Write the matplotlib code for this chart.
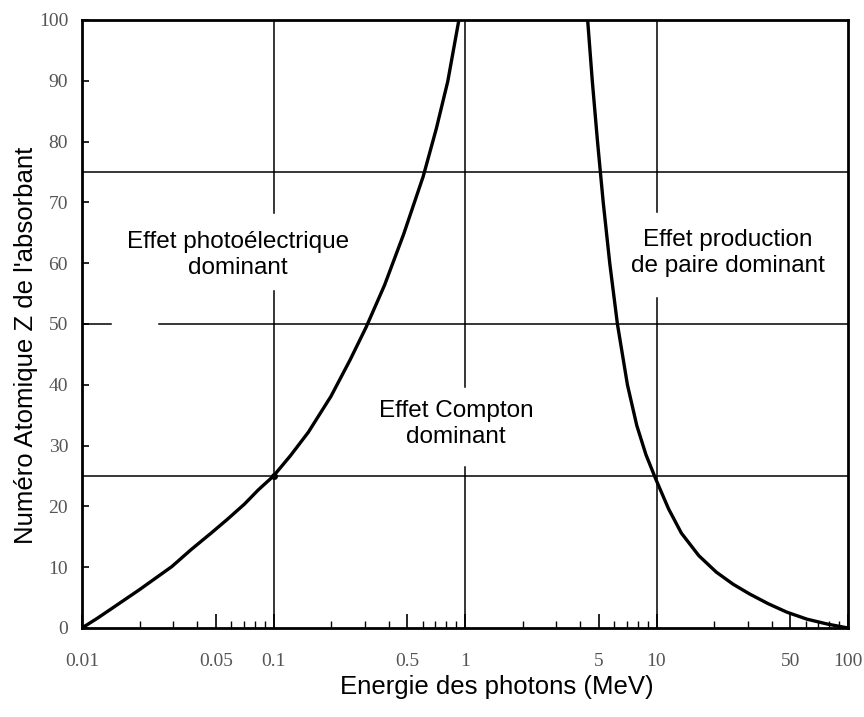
import matplotlib.pyplot as plt
from matplotlib.ticker import FixedLocator, NullFormatter

# Frontière photoélectrique / Compton
e_photo = [0.01, 0.01202, 0.01445, 0.01995, 0.02944, 0.03715, 0.04721, 0.05754,
           0.07063, 0.08318, 0.1, 0.123, 0.152, 0.1995, 0.2512, 0.3048, 0.3802,
           0.4786, 0.6053, 0.7079, 0.8128, 0.929]
z_photo = [0, 1.6, 3.3, 6.3, 10.1, 12.9, 15.6, 17.9,
           20.4, 22.7, 25.0, 28.4, 32.2, 38.1, 44.1, 49.5, 56.4,
           64.8, 74.3, 82.1, 89.9, 100]

# Frontière Compton / production de paire
e_paire = [4.37, 4.62, 4.92, 5.27, 5.70, 6.25, 7.05, 7.89, 8.81, 9.91, 11.56,
           13.49, 16.63, 20.51, 25.12, 30.62, 38.28, 47.97, 61.09, 77.98, 89.13,
           100]
z_paire = [100, 90, 80, 70, 60, 50, 40, 33.3, 28.5, 24.5, 19.6,
           15.6, 11.9, 9.2, 7.2, 5.6, 4.0, 2.6, 1.45, 0.65, 0.3,
           0]

# Lignes de repère (avec interruptions autour des textes)
z_repere = [75, 50, 25]
e_repere = [0.1, 1, 10]
trous_vert = {0.1: (55.4, 68.3), 1: (26.4, 39.6), 10: (54.2, 68.5)}
trou_50 = (0.0142, 0.0252)

x_ticks = [0.01, 0.05, 0.1, 0.5, 1, 5, 10, 50, 100]
x_labels = ['0.01', '0.05', '0.1', '0.5', '1', '5', '10', '50', '100']
x_minor = [m * d for d in [0.01, 0.1, 1, 10] for m in [2, 3, 4, 6, 7, 8, 9]]
y_ticks = list(range(0, 101, 10))

fig = plt.figure(figsize=(8.64, 7.17), dpi=100)
ax = fig.add_axes([82 / 864, 1 - 628 / 717, 766 / 864, 608 / 717])
ax.set_xscale('log')
ax.set_xlim(0.01, 100)
ax.set_ylim(0, 100)

# lignes horizontales
for z in z_repere:
    if z == 50:
        ax.plot([0.01, trou_50[0]], [z, z], color='black', lw=1.1)
        ax.plot([trou_50[1], 100], [z, z], color='black', lw=1.1)
    else:
        ax.plot([0.01, 100], [z, z], color='black', lw=1.1)

# lignes verticales
for e in e_repere:
    bas, haut = trous_vert[e]
    ax.plot([e, e], [0, bas], color='black', lw=1.1)
    ax.plot([e, e], [haut, 100], color='black', lw=1.1)

ax.plot(e_photo, z_photo, color='black', lw=2.4, solid_capstyle='round',
        solid_joinstyle='round')
ax.plot(e_paire, z_paire, color='black', lw=2.4, solid_capstyle='round',
        solid_joinstyle='round')
ax.plot([0.1], [25], 'o', color='black', ms=4)
ax.plot([0.01], [0], 's', color='black', ms=4)

txt = dict(family='Liberation Sans', fontsize=17.5, ha='center', va='center',
           linespacing=1.25)
ax.text(0.065, 61.4, 'Effet photoélectrique\ndominant', **txt)
ax.text(0.9, 33.5, 'Effet Compton\ndominant', **txt)
ax.text(23.6, 61.7, 'Effet production\nde paire dominant', **txt)

ax.xaxis.set_major_locator(FixedLocator(x_ticks))
ax.set_xticklabels(x_labels)
ax.xaxis.set_minor_locator(FixedLocator(x_minor))
ax.xaxis.set_minor_formatter(NullFormatter())
ax.set_yticks(y_ticks)
ax.tick_params(axis='x', which='major', direction='in', length=10, width=1.2,
               pad=18, labelsize=14, labelcolor='#555555')
ax.tick_params(axis='x', which='minor', direction='in', length=5, width=1)
ax.tick_params(axis='y', direction='in', length=5, width=1.2, pad=10,
               labelsize=14, labelcolor='#555555')
for lab in ax.get_xticklabels() + ax.get_yticklabels():
    lab.set_family('Liberation Serif')

for s in ax.spines.values():
    s.set_linewidth(2)

ax.set_xlabel('Energie des photons (MeV)', family='Liberation Sans',
              fontsize=18.5)
ax.set_ylabel("Numéro Atomique Z de l'absorbant", family='Liberation Sans',
              fontsize=18.5)
ax.xaxis.set_label_coords(0.542, -0.078)
ax.yaxis.set_label_coords(-0.058, 0.465)

fig.savefig('out.png', dpi=100)
